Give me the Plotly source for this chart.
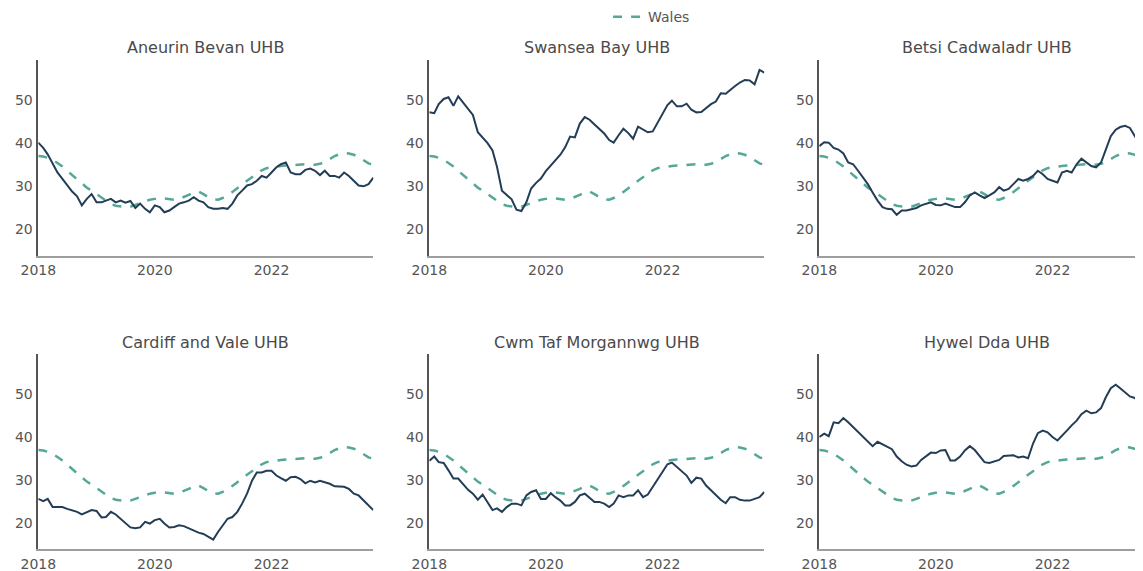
import pandas as pd
import plotly.graph_objects as go
from plotly.subplots import make_subplots

# monthly values, Jan 2018 - Oct 2023
months = pd.date_range("2018-01-01", periods=70, freq="MS")

boards = [
    "Aneurin Bevan UHB",
    "Swansea Bay UHB",
    "Betsi Cadwaladr UHB",
    "Cardiff and Vale UHB",
    "Cwm Taf Morgannwg UHB",
    "Hywel Dda UHB",
]

wales = [
    37.0, 36.9, 36.6, 36.1, 35.4, 34.6, 33.6, 32.6, 31.5, 30.5,
    29.7, 29.0, 28.2, 27.3, 26.5, 25.9, 25.5, 25.3, 25.2, 25.3,
    25.7, 26.2, 26.6, 26.9, 27.1, 27.3, 27.2, 27.0, 26.9, 27.1,
    27.5, 28.0, 28.6, 28.8, 28.2, 27.5, 27.0, 26.9, 27.3, 27.9,
    28.7, 29.5, 30.4, 31.3, 32.1, 32.9, 33.7, 34.2, 34.4, 34.6,
    34.7, 34.8, 34.9, 35.0, 35.1, 35.1, 35.0, 35.0, 35.2, 35.6,
    36.3, 37.0, 37.4, 37.7, 37.6, 37.3, 36.8, 36.0, 35.3, 35.0,
]

aneurin = [
    40.1, 38.9, 37.4, 35.1, 33.2, 31.7, 30.2, 28.8, 27.7, 25.6,
    27.1, 28.2, 26.3, 26.3, 26.7, 27.1, 26.3, 26.7, 26.2, 26.6,
    25.0, 26.0, 24.8, 24.0, 25.6, 25.2, 24.0, 24.4, 25.2, 26.0,
    26.3, 26.7, 27.5, 26.7, 26.3, 25.2, 24.8, 24.8, 25.0, 24.8,
    26.0, 27.9, 29.0, 30.2, 30.5, 31.3, 32.4, 32.0, 33.2, 34.4,
    35.1, 35.5, 33.2, 32.8, 32.8, 33.8, 34.1, 33.6, 32.6, 33.6,
    32.4, 32.4, 32.0, 33.2, 32.4, 31.3, 30.2, 30.0, 30.5, 32.0,
]

swansea = [
    47.1, 46.9, 49.0, 50.2, 50.6, 48.6, 50.8, 49.3, 47.9, 46.5,
    42.5, 41.3, 40.0, 38.3, 34.5, 29.0, 27.9, 27.0, 24.6, 24.3,
    26.3, 29.5, 30.8, 31.8, 33.5, 34.8, 36.2, 37.3, 39.0, 41.5,
    41.3, 44.5, 46.0, 45.4, 44.3, 43.2, 42.2, 40.7, 40.1, 41.8,
    43.3, 42.3, 41.0, 43.8, 43.1, 42.5, 42.7, 44.7, 47.0, 48.8,
    49.8, 48.5, 48.5, 49.1, 47.7, 47.1, 47.2, 48.2, 49.0, 49.6,
    51.5, 51.4, 52.3, 53.2, 54.0, 54.6, 54.5, 53.6, 56.9, 56.3,
]

betsi = [
    39.3, 40.2, 40.1, 38.9, 38.5, 37.6, 35.5, 35.1, 33.6, 32.1,
    30.5, 28.6, 26.7, 25.2, 24.8, 24.7, 23.4, 24.4, 24.4, 24.7,
    25.0, 25.6, 26.0, 26.3, 25.7, 25.6, 26.0, 25.6, 25.2, 25.2,
    26.3, 27.9, 28.6, 27.9, 27.3, 27.9, 28.6, 29.8, 29.0, 29.4,
    30.5, 31.7, 31.3, 31.7, 32.4, 33.6, 32.8, 31.7, 31.3, 30.9,
    33.2, 33.6, 33.2, 35.1, 36.4, 35.5, 34.7, 34.4, 35.5, 38.5,
    41.6, 43.1, 43.7, 44.0, 43.5, 41.6, 39.5, 37.8, 36.6, 36.0,
]

cardiff = [
    25.7, 25.2, 25.7, 23.8, 23.8, 23.8, 23.4, 23.1, 22.7, 22.1,
    22.7, 23.1, 22.9, 21.4, 21.5, 22.7, 22.1, 21.1, 20.2, 19.1,
    18.9, 19.1, 20.4, 20.0, 20.8, 21.1, 20.0, 19.1, 19.2, 19.6,
    19.4, 18.9, 18.5, 17.9, 17.6, 16.9, 16.3, 18.1, 19.6, 21.1,
    21.5, 22.7, 24.6, 26.9, 29.9, 31.8, 31.8, 32.2, 32.2, 31.1,
    30.5, 29.9, 30.7, 30.8, 30.3, 29.3, 29.9, 29.5, 29.9, 29.5,
    29.2, 28.6, 28.5, 28.5, 28.0, 26.9, 26.5, 25.3, 24.2, 23.1,
]

cwm_taf = [
    34.5, 35.5, 34.2, 34.0, 32.3, 30.4, 30.4, 29.2, 27.8, 26.9,
    25.5, 26.7, 25.0, 23.1, 23.5, 22.7, 23.8, 24.6, 24.6, 24.2,
    26.5, 27.3, 27.7, 25.7, 25.7, 27.0, 26.1, 25.3, 24.2, 24.2,
    25.0, 26.5, 26.9, 26.0, 25.0, 25.0, 24.6, 23.8, 24.6, 26.5,
    26.1, 26.5, 26.5, 27.7, 26.1, 26.7, 28.4, 30.3, 31.8, 33.7,
    34.1, 33.1, 32.3, 31.1, 29.4, 30.6, 30.4, 28.8, 27.7, 26.5,
    25.5, 24.7, 26.1, 26.1, 25.5, 25.3, 25.3, 25.7, 26.1, 27.3,
]

hywel = [
    40.0, 40.8, 40.2, 43.4, 43.2, 44.4, 43.4, 42.3, 41.1, 40.0,
    38.9, 37.9, 38.9, 38.4, 37.8, 37.2, 35.5, 34.4, 33.6, 33.2,
    33.4, 34.7, 35.5, 36.4, 36.3, 36.9, 37.0, 34.6, 34.6, 35.5,
    36.9, 37.9, 37.0, 35.5, 34.2, 34.0, 34.4, 34.7, 35.6, 35.7,
    35.8, 35.3, 35.5, 35.1, 38.5, 40.9, 41.5, 41.1, 40.0, 39.2,
    40.4, 41.5, 42.7, 43.8, 45.3, 46.1, 45.5, 45.7, 46.7, 49.2,
    51.3, 52.1, 51.3, 50.4, 49.4, 49.0, 48.2, 47.5, 47.0, 46.5,
]

series = [aneurin, swansea, betsi, cardiff, cwm_taf, hywel]

BOARD_COLOUR = "#223d55"
WALES_COLOUR = "#55a898"
TEXT_COLOUR = "#555555"

col_domains = [[0.0265, 0.3196], [0.3686, 0.6617], [0.7098, 1.0]]
row_domains = [[0.5665, 0.9089], [0.0517, 0.3940]]
title_x = [0.1731, 0.5151, 0.8563]
title_y = [0.930, 0.415]

fig = make_subplots(rows=2, cols=3, subplot_titles=boards)

for i, (name, vals) in enumerate(zip(boards, series)):
    r, c = i // 3 + 1, i % 3 + 1
    fig.add_trace(
        go.Scatter(
            x=months, y=wales, name="Wales", mode="lines",
            line=dict(color=WALES_COLOUR, width=2.5, dash="dash"),
            legendgroup="wales", showlegend=(i == 0),
        ),
        row=r, col=c,
    )
    fig.add_trace(
        go.Scatter(
            x=months, y=vals, name=name, mode="lines",
            line=dict(color=BOARD_COLOUR, width=2),
            showlegend=False,
        ),
        row=r, col=c,
    )

for i in range(6):
    r, c = i // 3, i % 3
    suffix = "" if i == 0 else str(i + 1)
    end = "2023-09-10" if c == 2 else "2023-10-01"
    fig.layout["xaxis" + suffix].update(domain=col_domains[c], range=["2018-01-01", end])
    fig.layout["yaxis" + suffix].update(domain=row_domains[r])
    ann = fig.layout.annotations[i]
    ann.update(x=title_x[c], y=title_y[r], yanchor="middle",
               font=dict(size=16, color="#4a4a4a"))

fig.update_xaxes(
    showline=True, linecolor="#9e9e9e", linewidth=2, showgrid=False,
    zeroline=False, dtick="M24", tickformat="%Y", ticklabelstandoff=1,
    tickfont=dict(size=14, color=TEXT_COLOUR), automargin=False,
)
fig.update_yaxes(
    showline=True, linecolor="#555555", linewidth=1.5, showgrid=False,
    zeroline=False, range=[14.0, 59.2], tickvals=[20, 30, 40, 50],
    ticklabelstandoff=1, tickfont=dict(size=14, color=TEXT_COLOUR),
    automargin=False,
)

fig.update_layout(
    width=1143,
    height=571,
    margin=dict(t=0, b=0, l=0, r=0, autoexpand=False),
    paper_bgcolor="white",
    plot_bgcolor="white",
    font=dict(family="DejaVu Sans", color=TEXT_COLOUR),
    legend=dict(
        orientation="h", x=0.525, xanchor="left", y=1.012, yanchor="top",
        font=dict(size=14, color=TEXT_COLOUR),
    ),
)

fig.write_html("out.html")
